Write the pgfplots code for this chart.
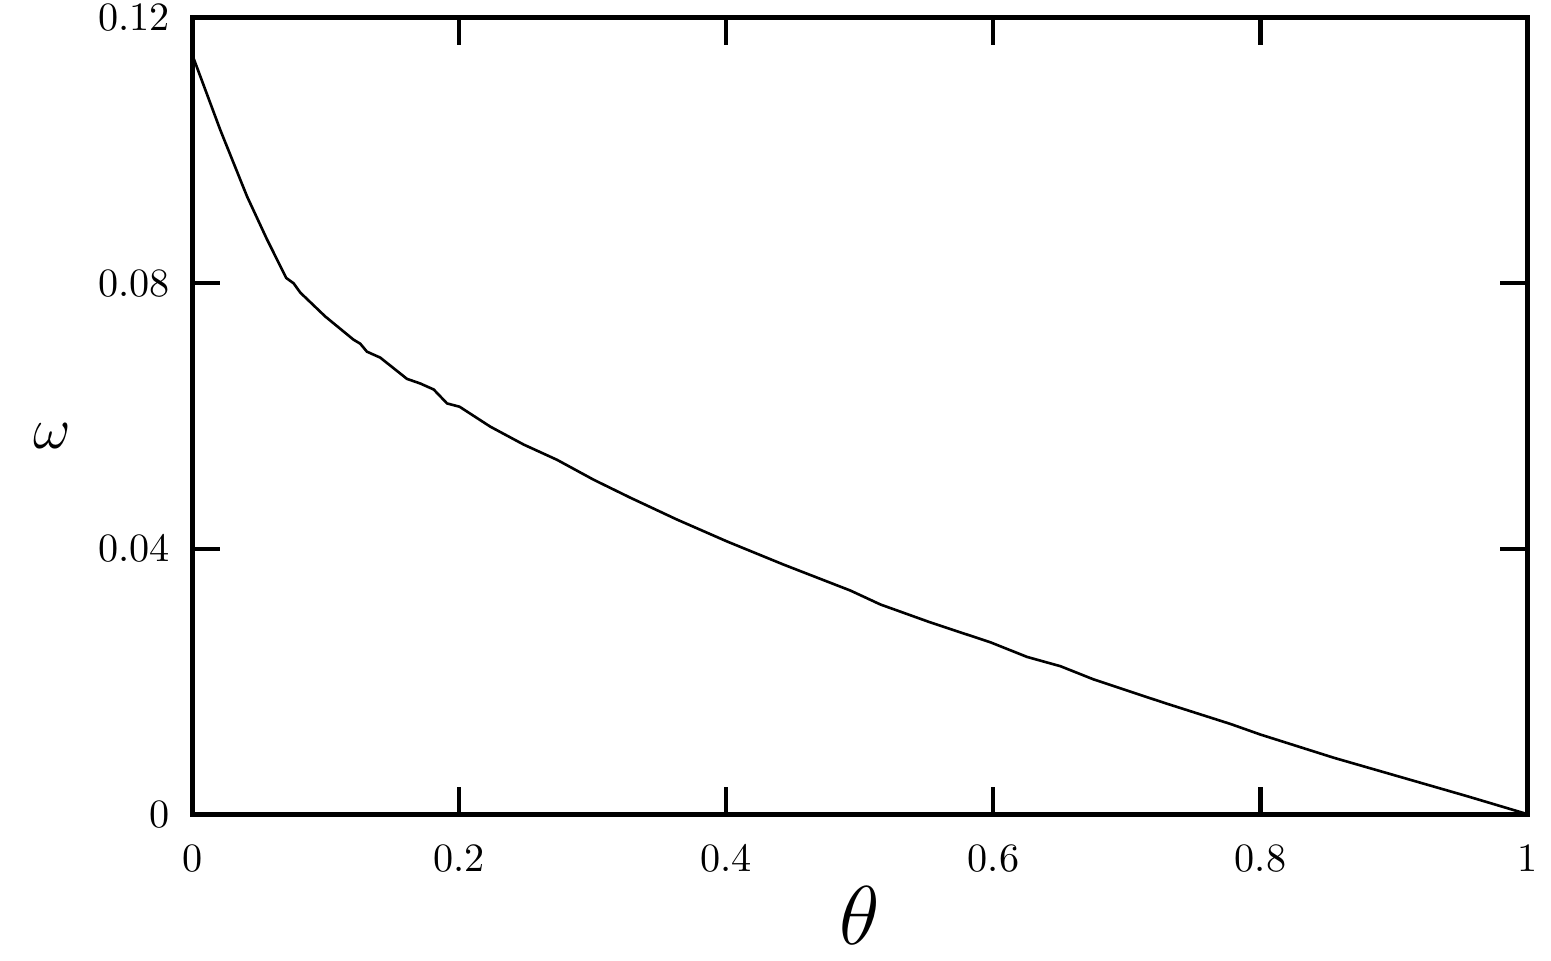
\documentclass[border=0pt]{standalone}
\usepackage{pgfplots}
\pgfplotsset{compat=1.18}
\begin{document}
\begin{tikzpicture}
\begin{axis}[
  scale only axis, width=332pt, height=198pt,
  xmin=0, xmax=1, ymin=0, ymax=0.12,
  xtick={0,0.2,0.4,0.6,0.8,1}, ytick={0,0.04,0.08,0.12},
  xticklabels={0,0.2,0.4,0.6,0.8,1},
  yticklabels={0,0.04,0.08,0.12},
  tick align=inside, major tick length=6.8pt,
  every tick/.style={black, line width=1pt},
  axis line style={black, line width=1.2pt},
  xticklabel style={yshift=-4pt},
  yticklabel style={xshift=-2pt, inner ysep=1pt},
  xlabel={$\theta$}, ylabel={$\omega$},
  xlabel style={font=\fontsize{20}{24}\selectfont, inner ysep=2pt, yshift=2pt},
  ylabel style={font=\fontsize{15}{18}\selectfont, rotate=-90, at={(ticklabel cs:0.475)}},
]
\addplot[black, line width=0.65pt] coordinates {
(0,0.1144) (0.001,0.1139) (0.021,0.1031) (0.041,0.0931) (0.056,0.0866)
(0.0704,0.0808) (0.0759,0.0800) (0.0809,0.0786) (0.0996,0.0750)
(0.1208,0.0715) (0.1258,0.0709) (0.1308,0.0697) (0.1408,0.0688)
(0.1508,0.0672) (0.1608,0.0656) (0.1708,0.0649) (0.1808,0.0640)
(0.1908,0.0619) (0.2002,0.0614) (0.2232,0.0584) (0.2482,0.0557)
(0.2732,0.0534) (0.3006,0.0504) (0.328,0.0477) (0.363,0.0444)
(0.4005,0.0411) (0.443,0.0376) (0.4929,0.0337) (0.5154,0.0316)
(0.5528,0.0289) (0.5978,0.0259) (0.6252,0.0237) (0.6502,0.0223)
(0.6752,0.0203) (0.7276,0.0168) (0.7775,0.0136) (0.8,0.0120)
(0.855,0.0085) (0.905,0.0056) (0.955,0.0027) (1,0)
};
\end{axis}
\path (current bounding box.west) ++(-5pt,0);
\path (current bounding box.south) ++(0,-2pt);
\end{tikzpicture}
\end{document}
